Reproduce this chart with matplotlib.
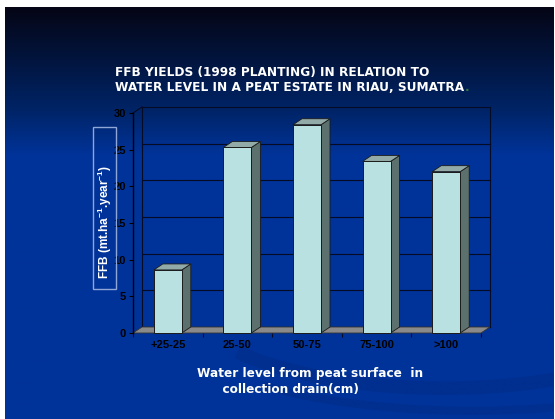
import numpy as np
import matplotlib
matplotlib.use("Agg")
import matplotlib.pyplot as plt
from matplotlib.patches import Polygon, Rectangle, Arc

plt.rcParams["mathtext.fontset"] = "custom"
plt.rcParams["mathtext.rm"] = "Liberation Sans:bold"
plt.rcParams["mathtext.bf"] = "Liberation Sans:bold"
plt.rcParams["mathtext.default"] = "bf"

categories = ["+25-25", "25-50", "50-75", "75-100", ">100"]
yields = [8.6, 25.3, 28.4, 23.4, 22.0]
yticks = [0, 5, 10, 15, 20, 25, 30]
title = "FFB YIELDS (1998 PLANTING) IN RELATION TO\nWATER LEVEL IN A PEAT ESTATE IN RIAU, SUMATRA"
xlabel = "Water level from peat surface  in\n      collection drain(cm)"
ylabel = "FFB (mt.ha$^{-1}$.year$^{-1}$)"

W, H = 555, 419
fig = plt.figure(figsize=(W / 100, H / 100), dpi=100)
fig.patch.set_facecolor("white")

# background slide with gradient
bg = fig.add_axes([5 / W, 0, 549 / W, 412 / H], zorder=-5)
bg.set_xlim(0, 1)
bg.set_ylim(0, 1)
bg.axis("off")
n = 256
grad = np.zeros((n, 1, 3))
top = np.array([0.02, 0.02, 0.08])
mid = np.array([0.0, 0.14, 0.40])
low = np.array([0.0, 0.20, 0.60])
for i, v in enumerate(np.linspace(0, 1, n)):
    if v < 0.25:
        c = top + (mid - top) * (v / 0.25)
    elif v < 0.36:
        c = mid + (low - mid) * ((v - 0.25) / 0.11)
    else:
        c = low
    grad[i, 0] = c
bg.imshow(grad, aspect="auto", extent=[0, 1, 0, 1], origin="upper")
for (cx, cy, w, h, lw) in [(0.80, 0.30, 0.95, 0.45, 10), (0.85, 0.22, 1.05, 0.40, 6)]:
    bg.add_patch(Arc((cx, cy), w, h, theta1=200, theta2=360, color="#002c88",
                     lw=lw, alpha=0.5))

# main axes: front plane
L, R = 133, 481
Y0, Y30 = 333, 113
ax = fig.add_axes([L / W, (H - Y0) / H, (R - L) / W, (Y0 - Y30) / H], zorder=2)
ax.set_xlim(-0.5, len(categories) - 0.5)
ax.set_ylim(0, 30)
ax.patch.set_alpha(0)
for s in ["top", "right", "bottom"]:
    ax.spines[s].set_visible(False)
ax.spines["left"].set_color("#000000")
ax.spines["left"].set_linewidth(1.0)

px_x = (R - L) / len(categories)
px_y = (Y0 - Y30) / 30
dx = 9 / px_x
dy = 6 / px_y
x0, x1 = -0.5, len(categories) - 0.5

edge = "#050a25"
for v in yticks:
    ax.plot([x0 + dx, x1 + dx], [v + dy, v + dy], color=edge, lw=0.8, clip_on=False, zorder=1)
ax.plot([x0 + dx, x0 + dx], [dy, 30 + dy], color=edge, lw=0.8, clip_on=False, zorder=1)
ax.plot([x1 + dx, x1 + dx], [dy, 30 + dy], color=edge, lw=0.8, clip_on=False, zorder=1)
ax.plot([x0, x0 + dx], [30, 30 + dy], color=edge, lw=0.8, clip_on=False, zorder=1)

# floor
ax.add_patch(Polygon([(x0, 0), (x1, 0), (x1 + dx, dy), (x0 + dx, dy)], closed=True,
                     facecolor="#8a8a8a", edgecolor="#333333", lw=0.6, clip_on=False, zorder=2))

# bars
bw = 28 / px_x
for i, v in enumerate(yields):
    xl, xr = i - bw / 2, i + bw / 2
    ax.add_patch(Polygon([(xr, 0), (xr + dx, dy), (xr + dx, v + dy), (xr, v)], closed=True,
                         facecolor="#5c716e", edgecolor="#1a1a1a", lw=0.6, clip_on=False, zorder=3))
    ax.add_patch(Polygon([(xl, v), (xr, v), (xr + dx, v + dy), (xl + dx, v + dy)], closed=True,
                         facecolor="#93aba8", edgecolor="#1a1a1a", lw=0.6, clip_on=False, zorder=3))
ax.bar(range(len(categories)), yields, width=bw, color="#b9e1e2", edgecolor="#1a1a1a",
       linewidth=0.7, zorder=4, clip_on=False)

# ticks
tickfont = dict(fontsize=8, fontweight="bold", color="black", family="Liberation Sans")
ax.set_yticks(yticks)
ax.set_yticklabels([str(v) for v in yticks], **tickfont)
ax.tick_params(axis="y", length=3, width=0.8, color="black", pad=2)
ax.set_xticks(np.arange(len(categories) + 1) - 0.5, minor=True)
ax.tick_params(axis="x", which="minor", length=3, width=0.8, color=edge, direction="out")
ax.set_xticks(range(len(categories)))
ax.set_xticklabels(categories, **tickfont)
ax.tick_params(axis="x", which="major", length=0, pad=5)

# y label box
box = Rectangle((93 / W, (H - 289) / H), 23 / W, 162 / H, transform=fig.transFigure,
                facecolor="none", edgecolor="#8fa6d6", lw=1.0, zorder=3)
fig.add_artist(box)
fig.text(104.5 / W, (H - 222) / H, ylabel, rotation=90, ha="center", va="center",
         fontsize=8.5, fontweight="bold", color="white", family="Liberation Sans", zorder=3)

# title
tt = fig.text(115 / W, (H - 80) / H, title, ha="left", va="center", fontsize=8.7,
              fontweight="bold", color="white", linespacing=1.2, zorder=3)
fig.add_artist(plt.Annotation(".", xy=(1, 0), xycoords=tt, xytext=(0.5, 0),
                              textcoords="offset points", ha="left", va="bottom",
                              fontsize=8.7, fontweight="bold", color="#2f7a3a", zorder=3))

# x label
fig.text(197 / W, (H - 381) / H, xlabel, ha="left", va="center", fontsize=8.7,
         fontweight="bold", color="white", linespacing=1.3, zorder=3)

fig.savefig("out.png", dpi=100, facecolor=fig.get_facecolor())
